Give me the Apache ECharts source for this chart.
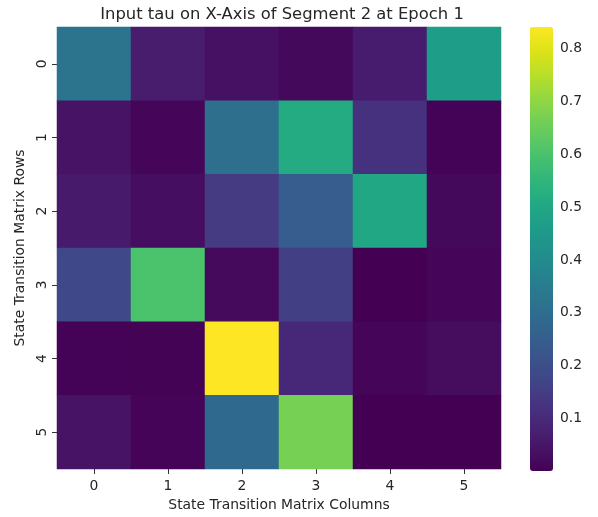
<!DOCTYPE html>
<html>
<head>
<meta charset="utf-8">
<title>Input tau heatmap</title>
<script src="https://cdn.jsdelivr.net/npm/echarts@6/dist/echarts.min.js"></script>
<style>
  html, body { margin: 0; padding: 0; background: #ffffff; }
  #chart { width: 598px; height: 517px; }
</style>
</head>
<body>
<div id="chart"></div>
<script>
// Column / row labels of the state transition matrix
const columnLabels = ['0', '1', '2', '3', '4', '5'];
const rowLabels = ['0', '1', '2', '3', '4', '5'];

// tau values, one array per matrix row
const row0 = [0.320, 0.067, 0.038, 0.020, 0.063, 0.467];
const row1 = [0.042, 0.010, 0.305, 0.515, 0.118, 0.006];
const row2 = [0.060, 0.030, 0.145, 0.245, 0.500, 0.018];
const row3 = [0.180, 0.600, 0.022, 0.155, 0.0004, 0.010];
const row4 = [0.006, 0.004, 0.841, 0.095, 0.010, 0.026];
const row5 = [0.042, 0.008, 0.285, 0.665, 0.001, 0.0015];
const rows = [row0, row1, row2, row3, row4, row5];

// Colorbar tick values
const colorbarTicks = [0.1, 0.2, 0.3, 0.4, 0.5, 0.6, 0.7, 0.8];

// viridis colour stops
const viridis = [
  '#440154', '#471365', '#482475', '#463480', '#414487', '#3b528b',
  '#355f8d', '#2f6c8e', '#2a788e', '#25848e', '#21918c', '#1e9c89',
  '#22a884', '#2fb47c', '#44bf70', '#5ec962', '#7ad151', '#9bd93c',
  '#bddf26', '#dfe318', '#fde725'
];

const cells = [];
rows.forEach((r, yi) => r.forEach((v, xi) => cells.push([xi, yi, v])));
const all = rows.flat();
const vMin = Math.min(...all);
const vMax = Math.max(...all);

const textColor = '#262626';
const font = 'DejaVu Sans';
const labelSize = 13.9;

const chart = echarts.init(document.getElementById('chart'), null, { renderer: 'canvas' });
chart.setOption({
  animation: false,
  backgroundColor: '#ffffff',
  textStyle: { fontFamily: font, color: textColor },
  title: {
    text: 'Input tau on X-Axis of Segment 2 at Epoch 1',
    left: 277, top: 2, textAlign: 'center',
    textStyle: { fontFamily: font, fontSize: 16.4, fontWeight: 'normal', color: textColor }
  },
  grid: [
    { left: 57, top: 27, width: 444, height: 444 },
    { left: 530, top: 27, width: 23, height: 444 }
  ],
  xAxis: [
    {
      type: 'category', gridIndex: 0, data: columnLabels,
      name: 'State Transition Matrix Columns', nameLocation: 'middle', nameGap: 29,
      nameTextStyle: { fontFamily: font, fontSize: labelSize, color: textColor },
      axisLine: { show: false },
      axisTick: { show: true, alignWithLabel: true, length: 5, lineStyle: { color: '#333', width: 1 } },
      axisLabel: { fontFamily: font, fontSize: labelSize, color: textColor, margin: 10 },
      splitLine: { show: false }
    },
    {
      type: 'value', gridIndex: 1, show: false, min: 0, max: 1
    }
  ],
  yAxis: [
    {
      type: 'category', gridIndex: 0, data: rowLabels, inverse: true,
      name: 'State Transition Matrix Rows', nameLocation: 'middle', nameGap: 25, nameRotate: 90,
      nameTextStyle: { fontFamily: font, fontSize: labelSize, color: textColor },
      axisLine: { show: false },
      axisTick: { show: true, alignWithLabel: true, length: 5, lineStyle: { color: '#333', width: 1 } },
      axisLabel: { fontFamily: font, fontSize: labelSize, color: textColor, rotate: 90, margin: 8 },
      splitLine: { show: false }
    },
    {
      type: 'value', gridIndex: 1, position: 'right', min: vMin, max: vMax,
      axisLine: { show: false },
      splitLine: { show: false },
      axisTick: { show: true, length: 4, customValues: colorbarTicks, lineStyle: { color: '#333', width: 1 } },
      axisLabel: {
        fontFamily: font, fontSize: labelSize, color: textColor, margin: 7,
        customValues: colorbarTicks,
        formatter: v => v.toFixed(1)
      }
    }
  ],
  visualMap: {
    type: 'continuous',
    min: vMin, max: vMax,
    seriesIndex: 0,
    calculable: false,
    realtime: false,
    showLabel: false,
    text: null,
    padding: 0,
    itemWidth: 23,
    itemHeight: 444,
    left: 530, top: 27,
    orient: 'vertical',
    inRange: { color: viridis },
    hoverLink: false
  },
  series: [
    {
      type: 'heatmap',
      xAxisIndex: 0, yAxisIndex: 0,
      data: cells,
      itemStyle: { borderWidth: 0 },
      emphasis: { disabled: true },
      progressive: 0
    },
    {
      type: 'line', xAxisIndex: 1, yAxisIndex: 1, data: [], silent: true
    }
  ]
});
</script>
</body>
</html>
